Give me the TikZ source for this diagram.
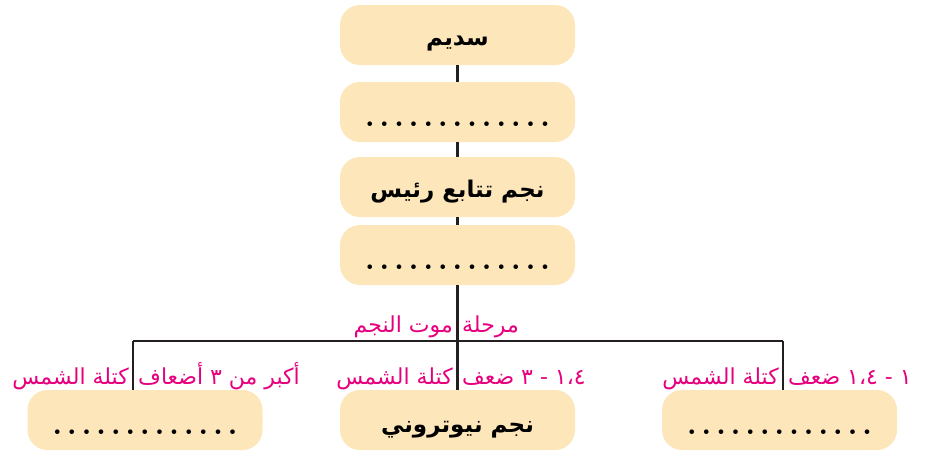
\documentclass[tikz,border=0pt]{standalone}
\usepackage{fontspec}
\newfontfamily\arabicfont[Script=Arabic]{DejaVu Sans}
\TeXXeTstate=1
\definecolor{boxfill}{RGB}{253,231,186}
\definecolor{labelpink}{RGB}{230,0,126}
\definecolor{linegray}{RGB}{35,31,32}
\newcommand{\ar}[1]{{\arabicfont\beginR #1\endR}}
\newcommand{\dotgap}{\kern4.6pt}
\newcommand{\dotrow}{{\bfseries\fontsize{32}{36}\selectfont
  .\dotgap.\dotgap.\dotgap.\dotgap.\dotgap.\dotgap.\dotgap.\dotgap.\dotgap.\dotgap.\dotgap.\dotgap.}}

\begin{document}
\begin{tikzpicture}[x=1pt, y=-1pt,
  stagebox/.style={rectangle, rounded corners=20pt, fill=boxfill,
    minimum width=235pt, minimum height=60pt, inner sep=2pt,
    text height=20pt, text depth=0pt,
    font=\fontsize{23}{27}\selectfont\bfseries},
  dotbox/.style={stagebox, text height=28pt, text depth=0pt},
  masslabel/.style={text=labelpink, inner sep=0pt, font=\fontsize{22}{26}\selectfont},
  conn/.style={draw=linegray, line width=2.2pt}]
  \useasboundingbox (0,0) rectangle (928,450);
  % stages down the middle
  \node[stagebox] (nebula) at (457.5,35) {\ar{سديم}};
  \node[dotbox] (protostar) at (457.5,112) {\dotrow};
  \node[stagebox] (mainseq) at (457.5,187) {\ar{نجم تتابع رئيس}};
  \node[dotbox] (giant) at (457.5,255) {\dotrow};
  % three endings
  \node[dotbox] (blackhole) at (145,420) {\dotrow};
  \node[stagebox, text height=24pt] (neutron) at (457.5,420) {\ar{نجم نيوتروني}};
  \node[dotbox] (dwarf) at (779.5,420) {\dotrow};
  % branch points
  \coordinate (jl) at (133,341);
  \coordinate (jc) at (457.5,341);
  \coordinate (jr) at (783,341);
  \draw[conn] (nebula) -- (protostar);
  \draw[conn] (protostar) -- (mainseq);
  \draw[conn] (mainseq) -- (giant);
  \draw[conn] (giant) -- (neutron);
  \draw[conn] (jl) -- (jr);
  \draw[conn] (jl) -- (jl |- blackhole.north);
  \draw[conn] (jr) -- (jr |- dwarf.north);
  % pink labels
  \node[masslabel, anchor=base west] (stagelbl) at (462,332) {\ar{مرحلة}};
  \node[masslabel, anchor=base east] (deathlbl) at (453,332) {\ar{موت النجم}};
  \node[masslabel, anchor=base east] (sunl) at (129,384) {\ar{كتلة الشمس}};
  \node[masslabel, anchor=base west] (massl) at (138,384) {\ar{أكبر من ٣ أضعاف}};
  \node[masslabel, anchor=base east] (sunc) at (453,384) {\ar{كتلة الشمس}};
  \node[masslabel, anchor=base west] (massc) at (462,384) {\ar{١،٤ - ٣ ضعف}};
  \node[masslabel, anchor=base east] (sunr) at (779,384) {\ar{كتلة الشمس}};
  \node[masslabel, anchor=base west] (massr) at (788,384) {\ar{١ - ١،٤ ضعف}};
\end{tikzpicture}
\end{document}
